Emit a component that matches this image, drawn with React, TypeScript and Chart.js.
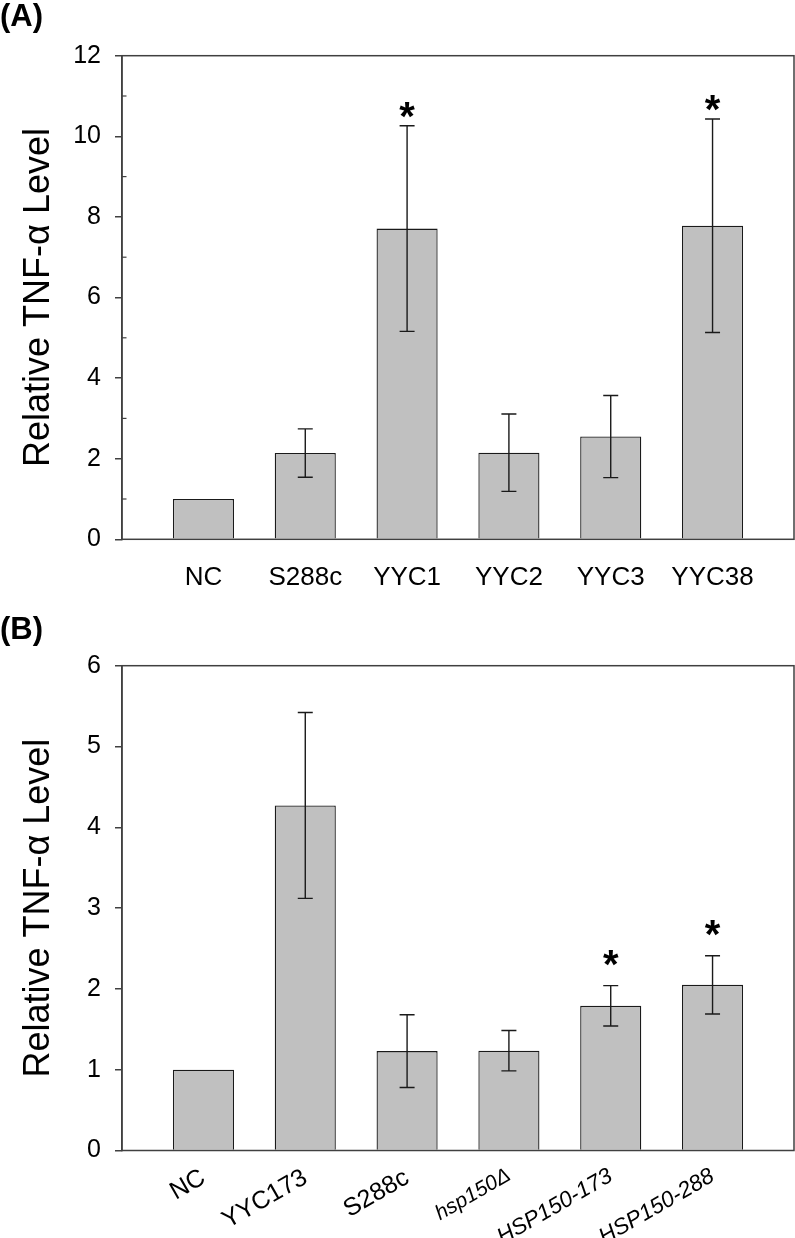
import React, { useEffect, useRef } from "react";
import { Chart, registerables } from "chart.js";

Chart.register(...registerables);

const FONT = "'Liberation Sans', Arial, sans-serif";

// Panel A data
const categoriesA = ["NC", "S288c", "YYC1", "YYC2", "YYC3", "YYC38"];
const valuesA = [1.0, 2.14, 7.71, 2.15, 2.55, 7.78];
const errorsA = [0, 0.6, 2.55, 0.96, 1.02, 2.65];
const starsA = [false, false, true, false, false, true];
const italicA = [false, false, false, false, false, false];
const yTicksA = [0, 2, 4, 6, 8, 10, 12];
const minorTicksA = [1, 3, 5, 7, 9, 11];

// Panel B data
const categoriesB = ["NC", "YYC173", "S288c", "hsp150Δ", "HSP150-173", "HSP150-288"];
const valuesB = [1.0, 4.27, 1.23, 1.235, 1.79, 2.05];
const errorsB = [0, 1.15, 0.45, 0.25, 0.25, 0.36];
const starsB = [false, false, false, false, true, true];
const italicB = [false, false, false, true, true, true];
const yTicksB = [0, 1, 2, 3, 4, 5, 6];
const minorTicksB: number[] = [];

const yTitle = "Relative TNF-α Level";

type PanelProps = {
  panel: string;
  labels: string[];
  values: number[];
  errors: number[];
  stars: boolean[];
  italic: boolean[];
  yTicks: number[];
  minorTicks: number[];
  yMax: number;
  height: number;
  plotTop: number;
  plotBottom: number;
  rotation: number;
  xPad: number;
  panelBaseline: number;
  starDy: number;
  smallIndex: number;
  labelSize: number;
  italicSize: number;
  smallSize: number;
};

function BarPanel(p: PanelProps) {
  const ref = useRef<HTMLCanvasElement>(null);
  useEffect(() => {
    const overlay = {
      id: "overlay" + p.panel,
      afterDatasetsDraw(chart: any) {
        const ctx = chart.ctx;
        const xs = chart.scales.x;
        const ys = chart.scales.y;
        ctx.save();
        ctx.strokeStyle = "#1a1a1a";
        ctx.lineWidth = 1.4;
        p.values.forEach((v, i) => {
          const e = p.errors[i];
          if (!e) return;
          const x = xs.getPixelForValue(i);
          const yHi = ys.getPixelForValue(v + e);
          const yLo = ys.getPixelForValue(v - e);
          ctx.beginPath();
          ctx.moveTo(x, yHi);
          ctx.lineTo(x, yLo);
          ctx.moveTo(x - 7.5, yHi);
          ctx.lineTo(x + 7.5, yHi);
          ctx.moveTo(x - 7.5, yLo);
          ctx.lineTo(x + 7.5, yLo);
          ctx.stroke();
        });
        ctx.fillStyle = "#000";
        ctx.font = `bold 40px ${FONT}`;
        ctx.textAlign = "center";
        ctx.textBaseline = "alphabetic";
        p.values.forEach((v, i) => {
          if (!p.stars[i]) return;
          const x = xs.getPixelForValue(i);
          const y = ys.getPixelForValue(v + p.errors[i]);
          ctx.fillText("*", x, y + p.starDy);
        });
        ctx.restore();
      },
      afterDraw(chart: any) {
        const ctx = chart.ctx;
        const a = chart.chartArea;
        const ys = chart.scales.y;
        ctx.save();
        ctx.strokeStyle = "#404040";
        ctx.lineWidth = 1.5;
        ctx.strokeRect(a.left, a.top, a.right - a.left, a.bottom - a.top);
        ctx.lineWidth = 1.2;
        p.minorTicks.forEach((t) => {
          const y = ys.getPixelForValue(t);
          ctx.beginPath();
          ctx.moveTo(a.left, y);
          ctx.lineTo(a.left + 4.5, y);
          ctx.stroke();
        });
        ctx.fillStyle = "#000";
        ctx.font = `bold 31px ${FONT}`;
        ctx.textAlign = "left";
        ctx.textBaseline = "alphabetic";
        ctx.fillText(p.panel, 0, p.panelBaseline);
        ctx.restore();
      },
    };

    const chart = new Chart(ref.current as HTMLCanvasElement, {
      type: "bar",
      data: {
        datasets: [
          {
            data: p.values.map((v, i) => ({ x: i, y: v })) as any,
            backgroundColor: "#c0c0c0",
            borderColor: "#1a1a1a",
            borderWidth: 1.3,
            barPercentage: 0.6,
            categoryPercentage: 1,
          },
        ],
      },
      options: {
        animation: false,
        responsive: false,
        maintainAspectRatio: false,
        layout: { padding: { top: p.plotTop, right: 1, left: 0, bottom: 0 } },
        plugins: {
          legend: { display: false },
          tooltip: { enabled: false },
        },
        scales: {
          x: {
            type: "linear",
            min: -0.8,
            max: p.values.length - 0.2,
            offset: false,
            afterBuildTicks: (s: any) => {
              s.ticks = p.labels.map((_, i) => ({ value: i }));
            },
            afterFit: (s: any) => {
              s.height = p.height - p.plotBottom;
              s.paddingLeft = 0;
              s.paddingRight = 0;
            },
            grid: { display: false },
            border: { display: false },
            ticks: {
              autoSkip: false,
              minRotation: p.rotation,
              maxRotation: p.rotation,
              padding: p.xPad,
              color: "#000",
              font: (c: any) => ({
                family: FONT,
                size:
                  c.index === p.smallIndex
                    ? p.smallSize
                    : p.italic[c.index]
                    ? p.italicSize
                    : p.labelSize,
                style: p.italic[c.index] ? "italic" : "normal",
              }),
              callback: (v: any) => p.labels[v] ?? "",
            },
          },
          y: {
            type: "linear",
            min: 0,
            max: p.yMax,
            afterBuildTicks: (s: any) => {
              s.ticks = p.yTicks.map((v) => ({ value: v }));
            },
            afterFit: (s: any) => {
              s.width = 122;
              s.paddingTop = 0;
              s.paddingBottom = 0;
            },
            grid: {
              drawOnChartArea: false,
              tickLength: 7,
              color: "#404040",
              lineWidth: 1.5,
            },
            border: { display: true, color: "#404040", width: 1.5 },
            ticks: {
              padding: 14,
              color: "#000",
              font: { family: FONT, size: 25 },
            },
            title: {
              display: true,
              text: yTitle,
              color: "#000",
              font: { family: FONT, size: 36 },
              padding: { top: 17.5, bottom: 0 },
            },
          },
        },
      } as any,
      plugins: [overlay],
    });
    return () => chart.destroy();
  }, []);
  return (
    <canvas
      ref={ref}
      width={795}
      height={p.height}
      style={{ display: "block", width: 795, height: p.height }}
    />
  );
}

export default function App() {
  return (
    <div
      style={{
        position: "absolute",
        left: 0,
        top: 0,
        width: 795,
        height: 1238,
        background: "#fff",
      }}
    >
      <div style={{ position: "absolute", left: 0, top: 0 }}>
        <BarPanel
          panel="(A)"
          labels={categoriesA}
          values={valuesA}
          errors={errorsA}
          stars={starsA}
          italic={italicA}
          yTicks={yTicksA}
          minorTicks={minorTicksA}
          yMax={12}
          height={600}
          plotTop={55.7}
          plotBottom={539.3}
          rotation={0}
          xPad={14.8}
          panelBaseline={25.5}
          starDy={4}
          smallIndex={-1}
          labelSize={26}
          italicSize={26}
          smallSize={26}
        />
      </div>
      <div style={{ position: "absolute", left: 0, top: 600 }}>
        <BarPanel
          panel="(B)"
          labels={categoriesB}
          values={valuesB}
          errors={errorsB}
          stars={starsB}
          italic={italicB}
          yTicks={yTicksB}
          minorTicks={minorTicksB}
          yMax={6}
          height={638}
          plotTop={65.7}
          plotBottom={550.5}
          rotation={30}
          xPad={4.5}
          panelBaseline={38.5}
          starDy={-8}
          smallIndex={3}
          labelSize={25}
          italicSize={22.5}
          smallSize={21}
        />
      </div>
    </div>
  );
}
